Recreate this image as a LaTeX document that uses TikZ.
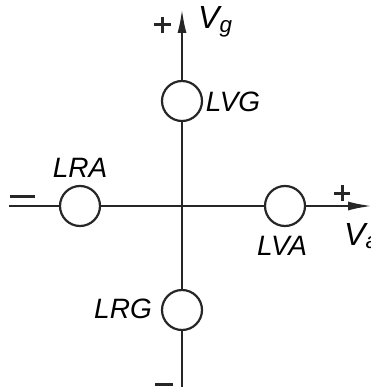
\documentclass[tikz,border=0pt]{standalone}
\usepackage{fontspec}
\setmainfont{Liberation Sans}
\usetikzlibrary{arrows.meta}
\begin{document}
\begin{tikzpicture}[x=1pt,y=-1pt,
  ln/.style={line width=2.2pt,black!85},
  sg/.style={line width=3pt,black!85},
  ring/.style={circle,draw=black!85,line width=2.2pt,minimum size=40pt,inner sep=0pt},
  lbl/.style={font=\fontsize{28}{28}\selectfont\itshape,inner sep=0pt},
  vlbl/.style={font=\fontsize{32}{32}\selectfont\itshape,inner sep=0pt},
  tip/.style={-{Latex[length=24pt,width=9pt]}}]
\useasboundingbox (0,0) rectangle (370,387);
% circles
\node[ring] (lvg) at (182,101) {};
\node[ring] (lra) at (80,206) {};
\node[ring] (lva) at (285,206) {};
\node[ring] (lrg) at (182,310) {};
\coordinate (top) at (182,9);
\coordinate (bot) at (182,387);
\coordinate (left) at (9,206);
\coordinate (right) at (372,206);
% axes
\draw[ln,tip] (lvg.north) -- (top);
\draw[ln] (lvg.south) -- (lrg.north);
\draw[ln] (lrg.south) -- (bot);
\draw[ln] (left) -- (lra.west);
\draw[ln] (lra.east) -- (lva.west);
\draw[ln,tip] (lva.east) -- (right);
% labels
\node[lbl] (tlvg) at (233,102) {LVG};
\node[lbl] (tlra) at (80,168) {LRA};
\node[lbl] (tlva) at (282,246) {LVA};
\node[lbl] (tlrg) at (123,309) {LRG};
\node[vlbl,anchor=west] (vg) at (198,22) {V\textsubscript{g}};
\node[vlbl,anchor=west] (va) at (344,236) {V\textsubscript{a}};
% signs
\draw[sg] (154,25) -- (171,25) (162.5,17) -- (162.5,33);
\draw[sg] (334,193) -- (350,193) (342,185) -- (342,201);
\draw[sg] (10,196) -- (35,196);
\draw[sg] (155,384) -- (173,384);
\end{tikzpicture}
\end{document}
